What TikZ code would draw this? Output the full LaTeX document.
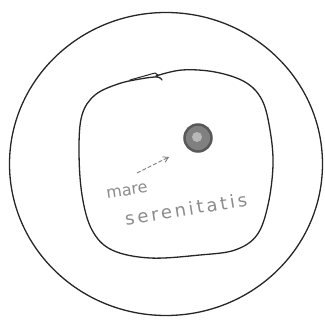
\documentclass[tikz,border=0pt]{standalone}
\usepackage{fontspec}
\setmainfont{DejaVu Sans}
\newfontfamily\handwide[LetterSpace=16]{DejaVu Sans}
\usetikzlibrary{arrows.meta}
\begin{document}
\begin{tikzpicture}[x=1pt,y=-1pt,
  ink/.style={draw=black!85,line width=1.3pt,line cap=round,line join=round},
  hand/.style={text=black!45,font=\fontsize{16}{16}\selectfont,inner sep=0pt}]
\useasboundingbox (0,0) rectangle (325,320);
\fill[white] (0,0) rectangle (325,320);
% outer circle
\draw[ink] (166,164) ellipse [x radius=156.5, y radius=151.5];
% inner blob
\draw[ink] plot[smooth,tension=0.6] coordinates {
 (156,76) (182,70) (215,72) (245,82) (262,100) (270,130) (273,165)
 (268,205) (257,235) (235,250) (200,255) (150,258) (112,250) (92,230)
 (82,195) (79,150) (82,115) (95,95) (118,84) (140,79) (157,77) (162,80)};
\draw[ink,line width=1pt] (130,80) -- (155,73) -- (158,75);
% dot
\node[circle,fill=black!50,draw=black!65,line width=2.5pt,minimum width=24pt,minimum height=27pt,inner sep=0pt] (dot) at (198,138) {};
\fill[black!28] (197,137) circle (5);
% arrow
\coordinate (a0) at (137,173);
\coordinate (a1) at (169,157);
\draw[draw=black!55,line width=0.8pt,dashed,dash pattern=on 4pt off 2pt,-{Straight Barb[length=5pt,width=6pt]}] (a0) -- (a1);
% text
\node[hand,rotate=8] (t1) at (127,191) {mare};
\node[hand,rotate=9,font=\handwide\fontsize{18}{18}\selectfont] (t2) at (186,209) {serenitatis};
\end{tikzpicture}
\end{document}
